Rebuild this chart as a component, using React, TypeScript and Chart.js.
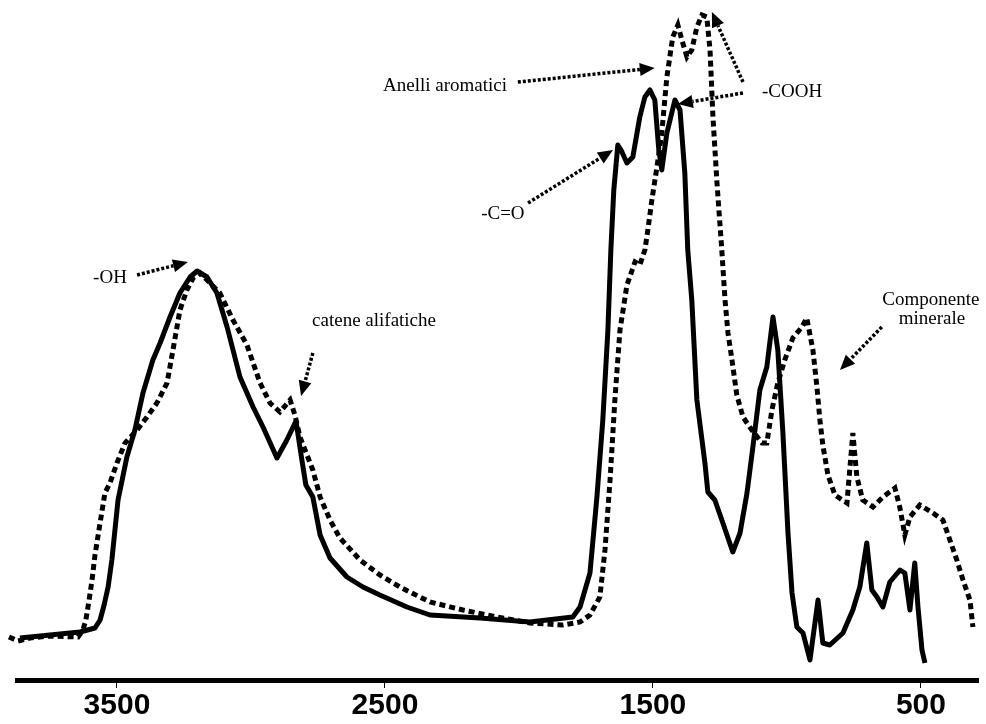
import React, { useEffect, useRef } from "react";
import { Chart, registerables } from "chart.js";

Chart.register(...registerables);

// Wavenumber (cm-1) and absorbance (arbitrary units)
const solidWavenumber = [3862,3787,3713,3638,3582,3563,3548,3533,3519,3496,3463,3433,3403,3366,3339,3302,3265,3227,3201,3164,3127,3089,3041,2992,2955,2903,2866,2832,2810,2795,2769,2742,2705,2642,2582,2519,2418,2332,2145,1959,1799,1772,1735,1709,1687,1668,1657,1646,1631,1619,1597,1575,1549,1530,1511,1493,1478,1467,1448,1418,1399,1381,1370,1355,1336,1306,1295,1269,1239,1202,1175,1149,1127,1101,1075,1052,1034,1015,996,981,963,940,914,884,866,840,791,754,728,702,683,664,642,616,578,560,541,523,511,496,485];
const solidAbsorbance = [42,44,46,48,52,60,75,93,120,180,223,250,287,320,337,363,387,403,409,403,387,353,303,273,253,222,240,259,220,195,183,145,122,103,93,85,73,65,62,58,63,73,107,183,260,350,430,490,535,530,517,523,563,583,590,580,530,510,547,580,570,507,430,380,280,217,188,180,157,128,147,187,233,290,313,363,330,247,147,87,53,47,20,80,37,35,47,70,93,137,90,83,73,98,110,107,70,117,73,30,17];

const dottedWavenumber = [3903,3869,3824,3750,3645,3627,3616,3604,3593,3582,3563,3545,3526,3500,3470,3425,3388,3351,3313,3291,3265,3239,3216,3190,3153,3116,3067,3015,2966,2929,2892,2854,2836,2817,2769,2742,2705,2668,2593,2519,2444,2332,2209,2082,1959,1836,1772,1735,1698,1679,1660,1642,1623,1597,1567,1549,1530,1519,1504,1485,1467,1448,1437,1426,1407,1392,1373,1355,1336,1317,1299,1287,1276,1261,1243,1231,1220,1205,1187,1164,1131,1093,1075,1056,1034,1008,978,944,926,903,888,877,866,847,821,776,754,739,717,679,642,597,579,560,541,504,455,418,392,366,343,317,306];
const dottedAbsorbance = [43,39,42,44,43,50,60,80,100,125,157,187,197,217,237,250,263,277,297,330,370,390,402,407,397,387,360,335,297,277,268,280,265,243,210,183,160,142,120,105,93,78,70,63,57,55,58,65,83,130,200,280,350,395,418,415,430,450,480,513,547,603,623,643,655,640,623,630,653,665,663,630,563,497,430,380,347,320,285,263,250,237,237,270,297,320,342,353,362,330,293,260,235,205,185,177,247,203,180,173,183,192,173,145,163,175,167,160,140,120,100,80,53];

const xTickValues = [3500, 2500, 1500, 500];

// Annotation labels, anchored in data coordinates
const annotationLabels = [
  { text: "-OH", wn: 3526, y: 402, align: "center" },
  { text: "catene alifatiche", wn: 2772, y: 359, align: "left" },
  { text: "Anelli aromatici", wn: 2276, y: 594, align: "center" },
  { text: "-C=O", wn: 2060, y: 466, align: "center" },
  { text: "-COOH", wn: 1093, y: 588, align: "left" },
  { text: "Componente", wn: 463, y: 380, align: "center" },
  { text: "minerale", wn: 459, y: 361, align: "center" },
];

const annotationArrows = [
  { fromWn: 3425, fromY: 405, toWn: 3235, toY: 418 },
  { fromWn: 2769, fromY: 327, toWn: 2813, toY: 284 },
  { fromWn: 2004, fromY: 598, toWn: 1493, toY: 612 },
  { fromWn: 1966, fromY: 477, toWn: 1649, toY: 530 },
  { fromWn: 1164, fromY: 587, toWn: 1407, toY: 576 },
  { fromWn: 1164, fromY: 598, toWn: 1280, toY: 668 },
  { fromWn: 646, fromY: 353, toWn: 802, toY: 310 },
];

const annotationPlugin = {
  id: "spectrumAnnotations",
  afterDatasetsDraw(chart: any) {
    const ctx = chart.ctx as CanvasRenderingContext2D;
    const xs = chart.scales.x;
    const ys = chart.scales.y;
    ctx.save();
    ctx.fillStyle = "#000";
    ctx.font = '19px "Liberation Serif", "Times New Roman", serif';
    ctx.textBaseline = "middle";
    for (const a of annotationLabels) {
      ctx.textAlign = a.align as CanvasTextAlign;
      ctx.fillText(a.text, xs.getPixelForValue(a.wn), ys.getPixelForValue(a.y));
    }
    for (const ar of annotationArrows) {
      const x1 = xs.getPixelForValue(ar.fromWn);
      const y1 = ys.getPixelForValue(ar.fromY);
      const x2 = xs.getPixelForValue(ar.toWn);
      const y2 = ys.getPixelForValue(ar.toY);
      const ang = Math.atan2(y2 - y1, x2 - x1);
      const headLen = 15;
      const headHalf = 6.5;
      const bx = x2 - headLen * Math.cos(ang);
      const by = y2 - headLen * Math.sin(ang);
      ctx.beginPath();
      ctx.setLineDash([3, 2]);
      ctx.lineWidth = 3.5;
      ctx.strokeStyle = "#000";
      ctx.moveTo(x1, y1);
      ctx.lineTo(bx, by);
      ctx.stroke();
      ctx.setLineDash([]);
      ctx.beginPath();
      ctx.moveTo(x2, y2);
      ctx.lineTo(bx + headHalf * Math.sin(ang), by - headHalf * Math.cos(ang));
      ctx.lineTo(bx - headHalf * Math.sin(ang), by + headHalf * Math.cos(ang));
      ctx.closePath();
      ctx.fill();
    }
    ctx.restore();
  },
};

export default function App() {
  const canvasRef = useRef<HTMLCanvasElement | null>(null);

  useEffect(() => {
    if (!canvasRef.current) return;
    const chart = new Chart(canvasRef.current, {
      type: "line",
      data: {
        datasets: [
          {
            label: "solid",
            data: solidWavenumber.map((x, i) => ({ x, y: solidAbsorbance[i] })),
            borderColor: "#000",
            borderWidth: 5,
            pointRadius: 0,
            tension: 0,
            borderJoinStyle: "round",
            clip: false as any,
          },
          {
            label: "dotted",
            data: dottedWavenumber.map((x, i) => ({ x, y: dottedAbsorbance[i] })),
            borderColor: "#000",
            borderWidth: 5,
            borderDash: [6, 4],
            borderCapStyle: "butt",
            pointRadius: 0,
            tension: 0,
            clip: false as any,
          },
        ],
      },
      options: {
        animation: false,
        responsive: false,
        devicePixelRatio: 1,
        layout: { padding: { left: 17, right: 8, top: 0, bottom: 0 } },
        plugins: {
          legend: { display: false },
          tooltip: { enabled: false },
        },
        scales: {
          x: {
            type: "linear",
            reverse: true,
            min: 287,
            max: 3873,
            afterBuildTicks: (scale: any) => {
              scale.ticks = xTickValues.map((v) => ({ value: v }));
            },
            ticks: {
              color: "#000",
              padding: 0,
              font: { family: '"Liberation Sans", Arial, sans-serif', size: 30, weight: "bold" },
              callback: (v: any) => String(v),
              maxRotation: 0,
              autoSkip: false,
            },
            grid: {
              display: true,
              drawOnChartArea: false,
              drawTicks: true,
              tickLength: 8,
              color: "#000",
              lineWidth: 1,
            },
            border: { display: true, color: "#000", width: 5 },
          },
          y: {
            display: false,
            min: 0,
            max: 680,
          },
        },
      },
      plugins: [annotationPlugin],
    });
    return () => chart.destroy();
  }, []);

  return (
    <div style={{ position: "fixed", left: 0, top: 0, width: 986, height: 724, background: "#fff" }}>
      <canvas ref={canvasRef} width={986} height={724} style={{ display: "block" }} />
    </div>
  );
}
